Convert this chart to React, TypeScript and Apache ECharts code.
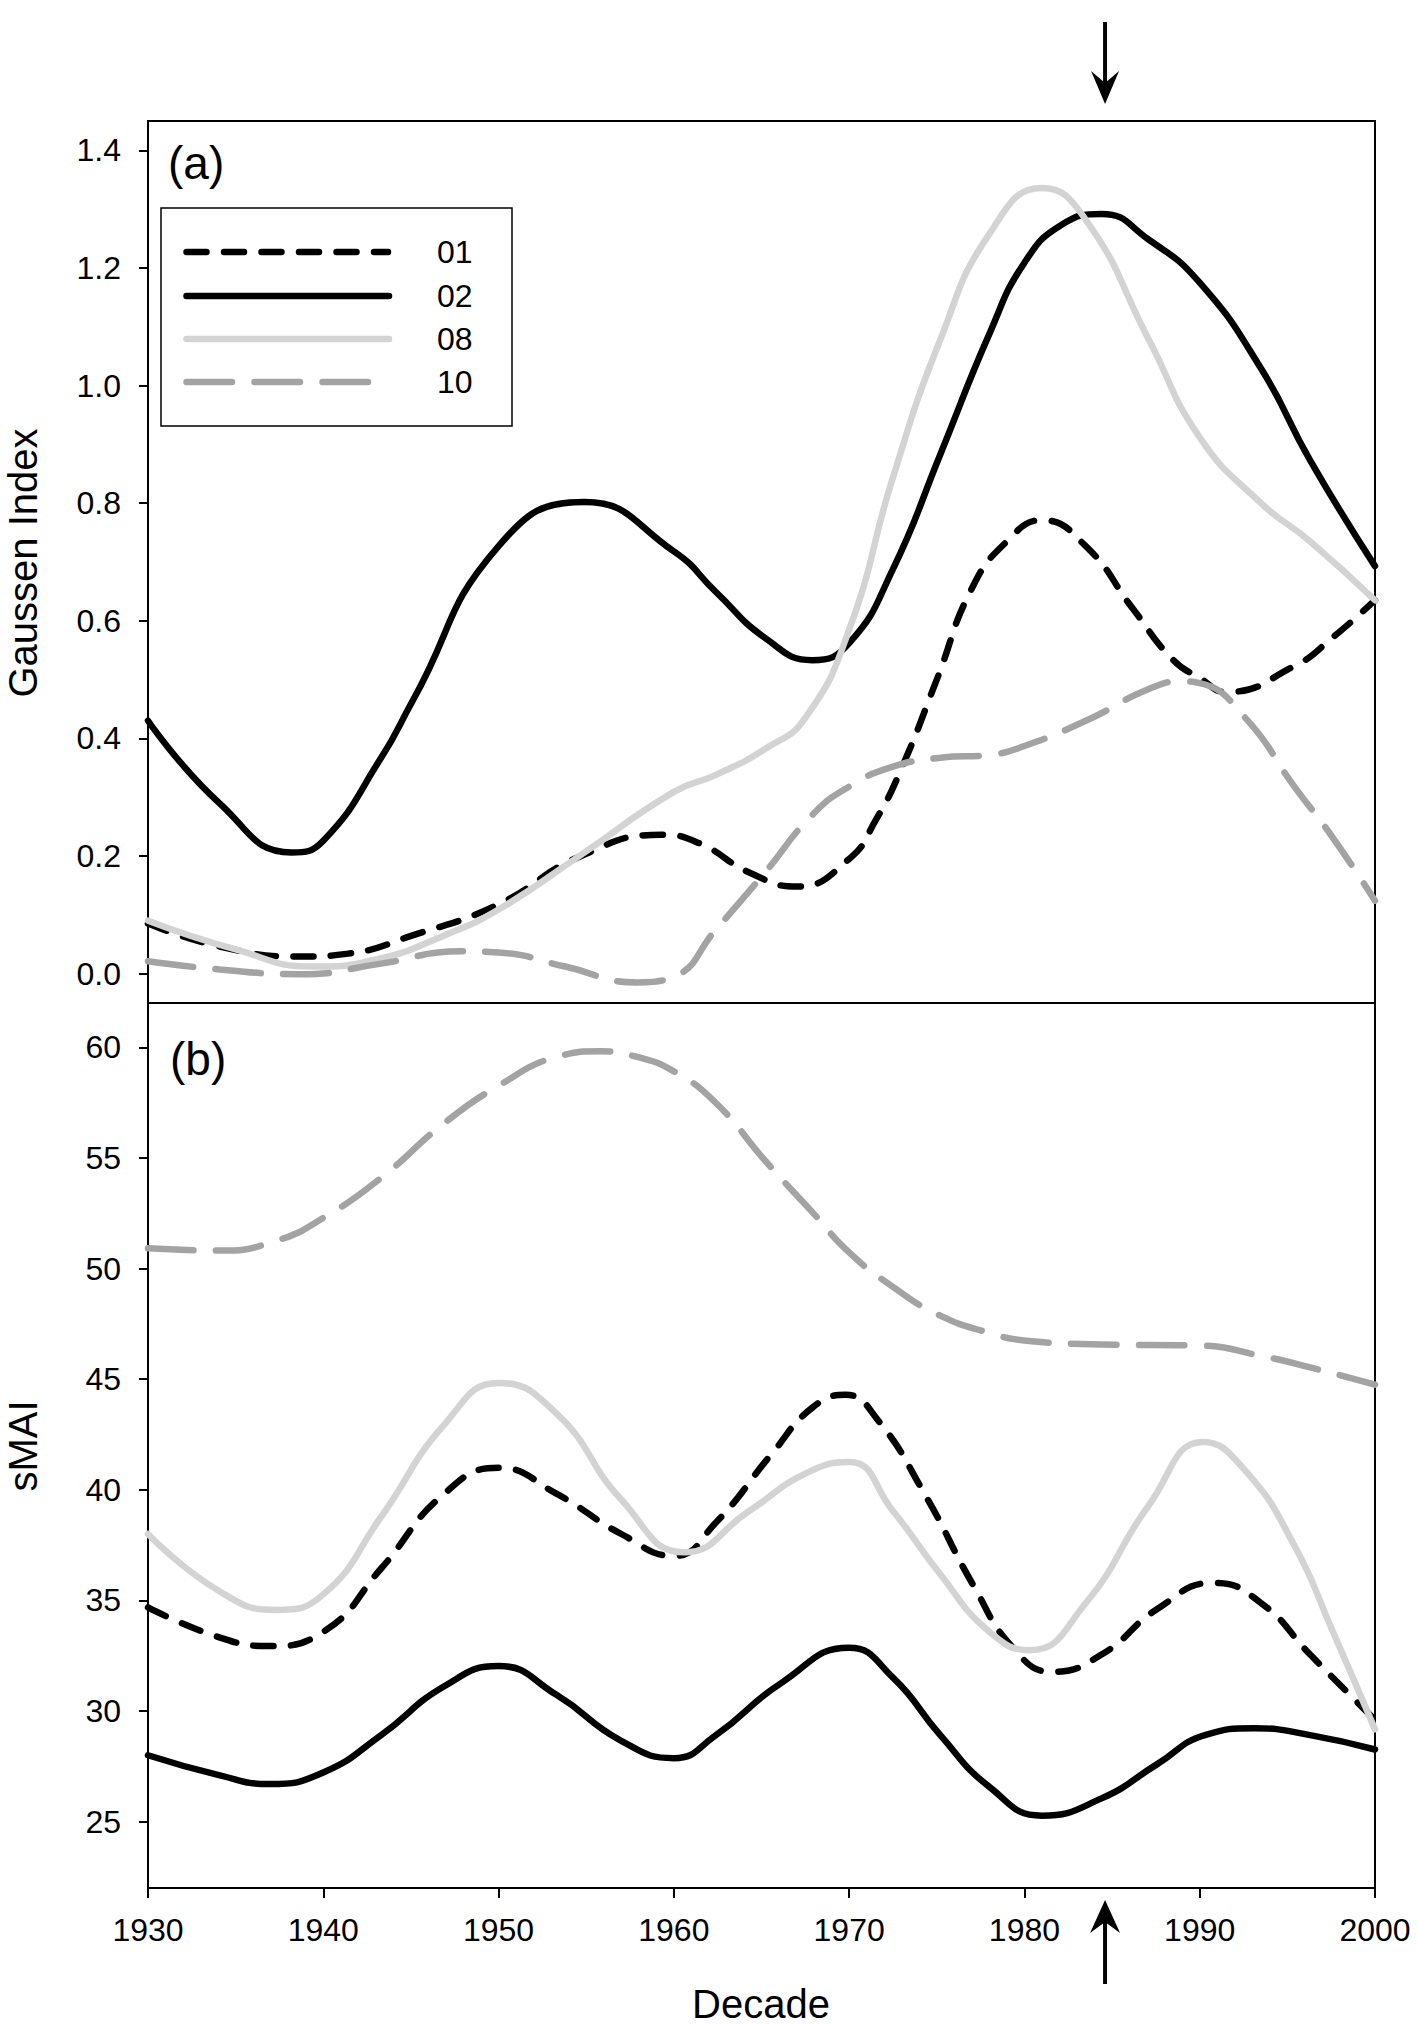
import React, { useEffect, useRef } from "react";
import * as echarts from "echarts";

// ---------- data ----------
const SERIES_NAMES = ["01", "02", "08", "10"];
const DECADE_MIN = 1930;
const DECADE_MAX = 2000;
const GI_TICKS = [0, 0.2, 0.4, 0.6, 0.8, 1.0, 1.2, 1.4];
const SMAI_TICKS = [25, 30, 35, 40, 45, 50, 55, 60];
const ARROW_YEAR = 1984.6;

// (a) Gaussen Index
const GI_01 = [
  [1930, 0.085], [1934.1, 0.046], [1938.7, 0.029], [1941.4, 0.034], [1945.1, 0.065],
  [1950, 0.118], [1954.7, 0.2], [1959.3, 0.236], [1961.5, 0.221], [1964.3, 0.172],
  [1967, 0.148], [1970, 0.195], [1971.5, 0.26], [1973, 0.35], [1975, 0.5],
  [1977, 0.655], [1979, 0.735], [1981, 0.771], [1983.5, 0.727], [1986.2, 0.62],
  [1988.5, 0.533], [1990, 0.503], [1991.5, 0.479], [1995.4, 0.523], [1997.6, 0.572],
  [2000, 0.635],
];
const GI_02 = [
  [1930, 0.43], [1934.1, 0.289], [1938.2, 0.206], [1940, 0.226], [1943.3, 0.367],
  [1945.1, 0.464], [1950, 0.727], [1954.9, 0.802], [1960, 0.718], [1962.4, 0.649],
  [1965.2, 0.571], [1967.9, 0.533], [1970, 0.562], [1972.5, 0.688], [1975.2, 0.883],
  [1978, 1.088], [1980, 1.209], [1982.1, 1.273], [1984.4, 1.292], [1987.1, 1.248],
  [1990, 1.175], [1993.5, 1.029], [1996.3, 0.873], [2000, 0.693],
];
const GI_08 = [
  [1930, 0.09], [1935, 0.041], [1939.4, 0.012], [1943.3, 0.026], [1946.9, 0.065],
  [1950, 0.109], [1954.7, 0.202], [1960, 0.309], [1962.4, 0.338], [1965.2, 0.382],
  [1967.5, 0.435], [1970, 0.585], [1972.5, 0.844], [1975.2, 1.078], [1978, 1.258],
  [1981, 1.336], [1983.5, 1.282], [1987.1, 1.078], [1990, 0.912], [1993.5, 0.8],
  [1996.3, 0.735], [2000, 0.635],
];
const GI_10 = [
  [1930, 0.021], [1934.1, 0.007], [1938.7, -0.001], [1943.3, 0.017], [1947.8, 0.038],
  [1950, 0.036], [1953.8, 0.012], [1957.9, -0.015], [1960, -0.005], [1962.4, 0.075],
  [1965.2, 0.172], [1967.9, 0.27], [1970, 0.318], [1972.5, 0.352], [1975.2, 0.367],
  [1978, 0.372], [1980, 0.387], [1983.5, 0.43], [1987.1, 0.484], [1989, 0.497],
  [1990, 0.494], [1992.6, 0.435], [1995.4, 0.318], [1997.6, 0.231], [2000, 0.124],
];

// (b) sMAI
const SMAI_01 = [
  [1930, 34.68], [1934.1, 33.32], [1936.9, 32.94], [1940, 33.58], [1943.3, 36.44],
  [1946.9, 39.82], [1950, 40.99], [1953.3, 39.82], [1957, 38.0], [1960, 37.01],
  [1962.4, 38.52], [1965.6, 41.64], [1967.9, 43.71], [1969.8, 44.29], [1971.6, 43.19],
  [1974.3, 39.82], [1977.1, 35.66], [1979.4, 32.81], [1981.6, 31.77], [1984.4, 32.55],
  [1987.6, 34.62], [1990.8, 35.79], [1993.5, 34.88], [1996.3, 32.55], [2000, 29.6],
];
const SMAI_02 = [
  [1930, 28.0], [1934.1, 27.09], [1936.9, 26.7], [1940, 27.22], [1943.3, 28.91],
  [1946.9, 31.12], [1950, 32.03], [1953.3, 30.73], [1957, 28.65], [1960, 27.87],
  [1962.4, 28.91], [1966.1, 31.25], [1970, 32.86], [1972.5, 31.51], [1975.2, 28.91],
  [1978, 26.57], [1981, 25.27], [1984.4, 26.05], [1987.6, 27.61], [1990.3, 28.91],
  [1993.1, 29.22], [1996.3, 28.91], [2000, 28.26],
];
const SMAI_08 = [
  [1930, 38.0], [1934.1, 35.4], [1937.3, 34.57], [1940, 35.27], [1943.3, 38.78],
  [1946.9, 42.94], [1950, 44.83], [1953.3, 43.45], [1957, 39.56], [1960.6, 37.17],
  [1964.3, 39.04], [1967.5, 40.73], [1970, 41.25], [1972.5, 39.04], [1975.2, 36.18],
  [1978, 33.58], [1980.3, 32.75], [1983.5, 34.88], [1987.1, 39.3], [1990.2, 42.16],
  [1992.6, 40.86], [1995.4, 37.48], [1997.6, 33.58], [2000, 29.17],
];
const SMAI_10 = [
  [1930, 50.91], [1934.1, 50.81], [1937.3, 51.25], [1940, 52.29], [1943.3, 54.1],
  [1946.9, 56.57], [1950, 58.26], [1953.3, 59.56], [1955.8, 59.82], [1957.9, 59.56],
  [1960, 58.91], [1962.4, 57.48], [1965.2, 54.88], [1967.9, 52.55], [1970, 50.73],
  [1972.5, 49.17], [1975.2, 47.87], [1978, 47.09], [1980, 46.75], [1984.4, 46.57],
  [1990, 46.52], [1993.5, 46.05], [1996.3, 45.53], [2000, 44.75],
];

const GI_DATA = [GI_01, GI_02, GI_08, GI_10];
const SMAI_DATA = [SMAI_01, SMAI_02, SMAI_08, SMAI_10];

// ---------- styles ----------
const FONT = "'Liberation Sans', Arial, Helvetica, sans-serif";
const LINE_STYLES: any[] = [
  { color: "#000000", width: 6.5, type: [20, 17.5], cap: "round" },
  { color: "#000000", width: 6.5, type: "solid", cap: "round" },
  { color: "#d3d3d3", width: 6.5, type: "solid", cap: "round" },
  { color: "#a3a3a3", width: 6.5, type: [45.5, 22.5], cap: "round" },
];

const G1 = { left: 148, top: 121, width: 1227, height: 882 };
const G2 = { left: 148, top: 1003, width: 1227, height: 885 };

export default function App() {
  const ref = useRef<HTMLDivElement>(null);

  useEffect(() => {
    if (!ref.current) return;
    const chart = echarts.init(ref.current, undefined, { renderer: "svg" });

    const tickStyle = { color: "#000", width: 2 };
    const labelStyle = { color: "#000", fontSize: 32, fontFamily: FONT };

    const series: any[] = [];
    SERIES_NAMES.forEach((name, i) => {
      series.push({
        name,
        type: "line",
        xAxisIndex: 0,
        yAxisIndex: 0,
        data: GI_DATA[i],
        smooth: 0.5,
        showSymbol: false,
        symbol: "none",
        lineStyle: LINE_STYLES[i],
        z: 2 + i,
      });
      series.push({
        name,
        type: "line",
        xAxisIndex: 1,
        yAxisIndex: 1,
        data: SMAI_DATA[i],
        smooth: 0.5,
        showSymbol: false,
        symbol: "none",
        lineStyle: LINE_STYLES[i],
        z: 2 + i,
      });
    });

    const option: any = {
      animation: false,
      backgroundColor: "#ffffff",
      grid: [
        { ...G1, show: true, borderColor: "#000", borderWidth: 2, backgroundColor: "transparent", containLabel: false },
        { ...G2, show: true, borderColor: "#000", borderWidth: 2, backgroundColor: "transparent", containLabel: false },
      ],
      xAxis: [
        {
          gridIndex: 0, type: "value", min: DECADE_MIN, max: DECADE_MAX, interval: 10,
          axisLine: { show: false }, axisTick: { show: false }, axisLabel: { show: false },
          splitLine: { show: false },
        },
        {
          gridIndex: 1, type: "value", min: DECADE_MIN, max: DECADE_MAX, interval: 10,
          axisLine: { show: true, onZero: false, lineStyle: tickStyle },
          axisTick: { show: true, length: 10, inside: false, lineStyle: tickStyle },
          axisLabel: { ...labelStyle, margin: 26, formatter: (v: number) => String(v) },
          splitLine: { show: false },
        },
      ],
      yAxis: [
        {
          gridIndex: 0, type: "value", min: -0.05, max: 1.45,
          axisLine: { show: true, onZero: false, lineStyle: tickStyle },
          axisTick: { show: true, length: 9, customValues: GI_TICKS, lineStyle: tickStyle },
          axisLabel: {
            ...labelStyle, margin: 27, customValues: GI_TICKS,
            formatter: (v: number) => v.toFixed(1),
          },
          splitLine: { show: false },
        },
        {
          gridIndex: 1, type: "value", min: 22, max: 62,
          axisLine: { show: true, onZero: false, lineStyle: tickStyle },
          axisTick: { show: true, length: 9, customValues: SMAI_TICKS, lineStyle: tickStyle },
          axisLabel: {
            ...labelStyle, margin: 27, customValues: SMAI_TICKS,
            formatter: (v: number) => String(Math.round(v)),
          },
          splitLine: { show: false },
        },
      ],
      series,
    };
    chart.setOption(option);

    const ax = chart.convertToPixel({ xAxisIndex: 1 }, ARROW_YEAR) as number;
    const rows = [252, 296, 339, 382];
    const legendEnds = [388, 389, 389, 372];
    const graphics: any[] = [
      // arrows
      { type: "line", shape: { x1: ax, y1: 22, x2: ax, y2: 86 }, style: { stroke: "#000", lineWidth: 4 }, z: 100 },
      { type: "polygon", shape: { points: [[ax, 104], [ax - 14, 71], [ax, 83], [ax + 14, 71]] }, style: { fill: "#000" }, z: 100 },
      { type: "line", shape: { x1: ax, y1: 1918, x2: ax, y2: 1984 }, style: { stroke: "#000", lineWidth: 4 }, z: 100 },
      { type: "polygon", shape: { points: [[ax, 1900], [ax - 15, 1933], [ax, 1922], [ax + 15, 1933]] }, style: { fill: "#000" }, z: 100 },
      // panel labels
      { type: "text", x: 168, y: 163, style: { text: "(a)", fontSize: 46, fontFamily: FONT, fill: "#000", align: "left", verticalAlign: "middle" }, z: 100 },
      { type: "text", x: 170, y: 1059, style: { text: "(b)", fontSize: 46, fontFamily: FONT, fill: "#000", align: "left", verticalAlign: "middle" }, z: 100 },
      // axis names
      { type: "text", x: 23, y: 563, rotation: Math.PI / 2, style: { text: "Gaussen Index", fontSize: 40, fontFamily: FONT, fill: "#000", align: "center", verticalAlign: "middle" }, z: 100 },
      { type: "text", x: 23, y: 1446, rotation: Math.PI / 2, style: { text: "sMAI", fontSize: 40, fontFamily: FONT, fill: "#000", align: "center", verticalAlign: "middle" }, z: 100 },
      { type: "text", x: 761, y: 2004, style: { text: "Decade", fontSize: 40, fontFamily: FONT, fill: "#000", align: "center", verticalAlign: "middle" }, z: 100 },
      // legend box
      { type: "rect", shape: { x: 161, y: 208, width: 351, height: 218 }, style: { fill: "#fff", stroke: "#000", lineWidth: 1.5 }, z: 90 },
    ];
    SERIES_NAMES.forEach((name, i) => {
      const ls = LINE_STYLES[i];
      graphics.push({
        type: "polyline",
        shape: { points: [[186.5, rows[i]], [legendEnds[i], rows[i]]] },
        style: {
          stroke: ls.color, lineWidth: ls.width, lineCap: "round",
          lineDash: Array.isArray(ls.type) ? ls.type : null,
        },
        z: 95,
      });
      graphics.push({
        type: "text", x: 437, y: rows[i],
        style: { text: name, fontSize: 32, fontFamily: FONT, fill: "#000", align: "left", verticalAlign: "middle" },
        z: 95,
      });
    });
    chart.setOption({ graphic: graphics });

    return () => chart.dispose();
  }, []);

  return (
    <div
      ref={ref}
      style={{ position: "absolute", left: 0, top: 0, width: 1418, height: 2026, background: "#fff" }}
    />
  );
}
